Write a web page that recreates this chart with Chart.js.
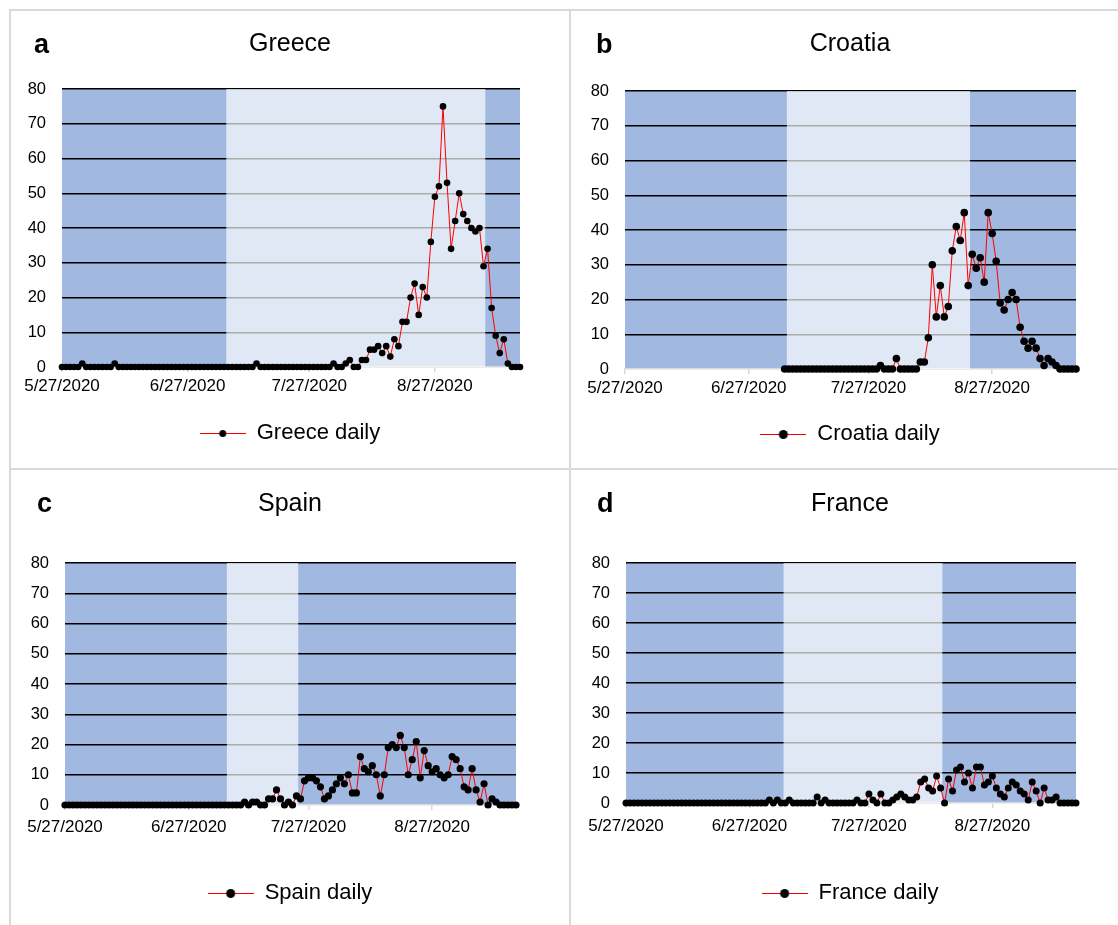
<!DOCTYPE html>
<html>
<head>
<meta charset="utf-8">
<title>Daily cases, summer 2020</title>
<script src="https://cdn.jsdelivr.net/npm/chart.js@4.4.1/dist/chart.umd.min.js"></script>
<style>
    body { margin: 0; background: #fff; width: 1118px; height: 925px; overflow: hidden; position: relative; }
    .rule { position: absolute; background: #d9d9d9; }
    .panel { position: absolute; width: 560px; height: 459px; }
    .panel canvas { position: absolute; left: 0; top: 0; }
    .letter { position: absolute; top: 21px; font: bold 27px 'Liberation Sans', Arial, sans-serif; line-height: 27px; color: #000; }
</style>
</head>
<body>
<div class="rule" style="left:9px; top:9px; width:1130px; height:2px;"></div>
<div class="rule" style="left:9px; top:9px; width:2px; height:930px;"></div>
<div class="rule" style="left:569px; top:9px; width:2px; height:930px;"></div>
<div class="rule" style="left:9px; top:468px; width:1130px; height:2px;"></div>

<div class="panel" style="left:10px; top:10px;"><canvas id="chartA" width="560" height="459"></canvas><div class="letter" style="left:24px;">a</div></div>
<div class="panel" style="left:570px; top:10px;"><canvas id="chartB" width="560" height="459"></canvas><div class="letter" style="left:26px;">b</div></div>
<div class="panel" style="left:10px; top:469px;"><canvas id="chartC" width="560" height="459"></canvas><div class="letter" style="left:27px;">c</div></div>
<div class="panel" style="left:570px; top:469px;"><canvas id="chartD" width="560" height="459"></canvas><div class="letter" style="left:27px;">d</div></div>

<script>
// Daily values, 5/27/2020 - 9/17/2020
const dates = [
    '5/27/2020', '5/28/2020', '5/29/2020', '5/30/2020', '5/31/2020',
    '6/1/2020', '6/2/2020', '6/3/2020', '6/4/2020', '6/5/2020', '6/6/2020', '6/7/2020', '6/8/2020', '6/9/2020', '6/10/2020',
    '6/11/2020', '6/12/2020', '6/13/2020', '6/14/2020', '6/15/2020', '6/16/2020', '6/17/2020', '6/18/2020', '6/19/2020', '6/20/2020',
    '6/21/2020', '6/22/2020', '6/23/2020', '6/24/2020', '6/25/2020', '6/26/2020', '6/27/2020', '6/28/2020', '6/29/2020', '6/30/2020',
    '7/1/2020', '7/2/2020', '7/3/2020', '7/4/2020', '7/5/2020', '7/6/2020', '7/7/2020', '7/8/2020', '7/9/2020', '7/10/2020',
    '7/11/2020', '7/12/2020', '7/13/2020', '7/14/2020', '7/15/2020', '7/16/2020', '7/17/2020', '7/18/2020', '7/19/2020', '7/20/2020',
    '7/21/2020', '7/22/2020', '7/23/2020', '7/24/2020', '7/25/2020', '7/26/2020', '7/27/2020', '7/28/2020', '7/29/2020', '7/30/2020', '7/31/2020',
    '8/1/2020', '8/2/2020', '8/3/2020', '8/4/2020', '8/5/2020', '8/6/2020', '8/7/2020', '8/8/2020', '8/9/2020', '8/10/2020',
    '8/11/2020', '8/12/2020', '8/13/2020', '8/14/2020', '8/15/2020', '8/16/2020', '8/17/2020', '8/18/2020', '8/19/2020', '8/20/2020',
    '8/21/2020', '8/22/2020', '8/23/2020', '8/24/2020', '8/25/2020', '8/26/2020', '8/27/2020', '8/28/2020', '8/29/2020', '8/30/2020', '8/31/2020',
    '9/1/2020', '9/2/2020', '9/3/2020', '9/4/2020', '9/5/2020', '9/6/2020', '9/7/2020', '9/8/2020', '9/9/2020', '9/10/2020',
    '9/11/2020', '9/12/2020', '9/13/2020', '9/14/2020', '9/15/2020', '9/16/2020', '9/17/2020'
];

const tickLabels = ['5/27/2020', '6/27/2020', '7/27/2020', '8/27/2020'];
const yMax = 80;
const yStep = 10;

const greeceDaily = [
    0, 0, 0, 0, 0, 1, 0, 0, 0, 0,
    0, 0, 0, 1, 0, 0, 0, 0, 0, 0,
    0, 0, 0, 0, 0, 0, 0, 0, 0, 0,
    0, 0, 0, 0, 0, 0, 0, 0, 0, 0,
    0, 0, 0, 0, 0, 0, 0, 0, 1, 0,
    0, 0, 0, 0, 0, 0, 0, 0, 0, 0,
    0, 0, 0, 0, 0, 0, 0, 1, 0, 0,
    1, 2, 0, 0, 2, 2, 5, 5, 6, 4,
    6, 3, 8, 6, 13, 13, 20, 24, 15, 23,
    20, 36, 49, 52, 75, 53, 34, 42, 50, 44,
    42, 40, 39, 40, 29, 34, 17, 9, 4, 8,
    1, 0, 0, 0
];

const croatiaDaily = [
    null, null, null, null, null, null, null, null, null, null,
    null, null, null, null, null, null, null, null, null, null,
    null, null, null, null, null, null, null, null, null, null,
    null, null, null, null, null, null, null, null, null, null,
    0, 0, 0, 0, 0, 0, 0, 0, 0, 0,
    0, 0, 0, 0, 0, 0, 0, 0, 0, 0,
    0, 0, 0, 0, 1, 0, 0, 0, 3, 0,
    0, 0, 0, 0, 2, 2, 9, 30, 15, 24,
    15, 18, 34, 41, 37, 45, 24, 33, 29, 32,
    25, 45, 39, 31, 19, 17, 20, 22, 20, 12,
    8, 6, 8, 6, 3, 1, 3, 2, 1, 0,
    0, 0, 0, 0
];

const spainDaily = [
    0, 0, 0, 0, 0, 0, 0, 0, 0, 0,
    0, 0, 0, 0, 0, 0, 0, 0, 0, 0,
    0, 0, 0, 0, 0, 0, 0, 0, 0, 0,
    0, 0, 0, 0, 0, 0, 0, 0, 0, 0,
    0, 0, 0, 0, 0, 1, 0, 1, 1, 0,
    0, 2, 2, 5, 2, 0, 1, 0, 3, 2,
    8, 9, 9, 8, 6, 2, 3, 5, 7, 9,
    7, 10, 4, 4, 16, 12, 11, 13, 10, 3,
    10, 19, 20, 19, 23, 19, 10, 15, 21, 9,
    18, 13, 11, 12, 10, 9, 10, 16, 15, 12,
    6, 5, 12, 5, 1, 7, 0, 2, 1, 0,
    0, 0, 0, 0
];

const franceDaily = [
    0, 0, 0, 0, 0, 0, 0, 0, 0, 0,
    0, 0, 0, 0, 0, 0, 0, 0, 0, 0,
    0, 0, 0, 0, 0, 0, 0, 0, 0, 0,
    0, 0, 0, 0, 0, 0, 1, 0, 1, 0,
    0, 1, 0, 0, 0, 0, 0, 0, 2, 0,
    1, 0, 0, 0, 0, 0, 0, 0, 1, 0,
    0, 3, 1, 0, 3, 0, 0, 1, 2, 3,
    2, 1, 1, 2, 7, 8, 5, 4, 9, 5,
    0, 8, 4, 11, 12, 7, 10, 5, 12, 12,
    6, 7, 9, 5, 3, 2, 5, 7, 6, 4,
    3, 1, 7, 4, 0, 5, 1, 1, 2, 0,
    0, 0, 0, 0
];

// Lighter shaded period (first and last day) for each country
const greeceLight = ['7/7/2020', '9/8/2020'];
const croatiaLight = ['7/7/2020', '8/21/2020'];
const spainLight = ['7/7/2020', '7/24/2020'];
const franceLight = ['7/6/2020', '8/14/2020'];

Chart.defaults.font.family = "'Liberation Sans', Arial, sans-serif";
Chart.defaults.color = '#000';

const CANVAS_H = 459;
const CANVAS_W = 560;

// Panel layout (pixels inside each panel)
const panels = [
    { id: 'chartA', title: 'Greece', legend: 'Greece daily', values: greeceDaily, light: greeceLight, r: 3.3, dot: 3.5,
      plotLeft: 52, plotRight: 510, plotTop: 79, plotBottom: 357, titleY: 34, legendY: 423, xPad: 4 },
    { id: 'chartB', title: 'Croatia', legend: 'Croatia daily', values: croatiaDaily, light: croatiaLight, r: 3.8, dot: 4.5,
      plotLeft: 55, plotRight: 506, plotTop: 81, plotBottom: 359, titleY: 34, legendY: 424, xPad: 4 },
    { id: 'chartC', title: 'Spain', legend: 'Spain daily', values: spainDaily, light: spainLight, r: 3.6, dot: 4.5,
      plotLeft: 55, plotRight: 506, plotTop: 94, plotBottom: 336, titleY: 35, legendY: 424, xPad: 7 },
    { id: 'chartD', title: 'France', legend: 'France daily', values: franceDaily, light: franceLight, r: 3.5, dot: 4.5,
      plotLeft: 56, plotRight: 506, plotTop: 94, plotBottom: 334, titleY: 35, legendY: 424, xPad: 8 }
];

// Points on the day-index axis
function toPoints(values) {
    return values.map((v, i) => ({ x: i, y: v }));
}

// Edges of the lighter period, half a day outside first and last day
function shadePoints(period) {
    const a = dates.indexOf(period[0]);
    const b = dates.indexOf(period[1]);
    return [{ x: a - 0.5, y: yMax }, { x: b + 0.5, y: yMax }];
}

// Red line with a black dot, used as legend symbol
function legendMarker(r) {
    const c = document.createElement('canvas');
    c.width = 46;
    c.height = 12;
    const g = c.getContext('2d');
    g.strokeStyle = '#ff0000';
    g.lineWidth = 1;
    g.beginPath();
    g.moveTo(0, 6.5);
    g.lineTo(46, 6.5);
    g.stroke();
    g.fillStyle = '#000';
    g.beginPath();
    g.arc(23, 6.5, r, 0, Math.PI * 2);
    g.fill();
    return c;
}

// Darker blue fill behind the grid
const plotBackground = {
    id: 'plotBackground',
    beforeDraw(chart) {
        const { ctx, chartArea } = chart;
        ctx.save();
        ctx.fillStyle = '#a1b8e0';
        ctx.fillRect(chartArea.left, chartArea.top, chartArea.right - chartArea.left, chartArea.bottom - chartArea.top);
        ctx.restore();
    }
};

function makeChart(p) {
    const padBottom = CANVAS_H - p.legendY - 21;
    const xAxisH = CANVAS_H - padBottom - 42 - p.plotBottom;
    const marker = legendMarker(p.dot);

    new Chart(document.getElementById(p.id), {
        type: 'line',
        data: {
            datasets: [
                {
                    label: p.legend,
                    data: toPoints(p.values),
                    borderColor: '#ff0000',
                    borderWidth: 1,
                    pointRadius: p.r,
                    pointHoverRadius: p.r,
                    pointBackgroundColor: '#000',
                    pointBorderColor: '#000',
                    pointBorderWidth: 0,
                    tension: 0,
                    fill: false,
                    clip: false,
                    order: 0
                },
                {
                    label: 'light',
                    data: shadePoints(p.light),
                    backgroundColor: 'rgba(255,255,255,0.67)',
                    borderWidth: 0,
                    pointRadius: 0,
                    fill: 'origin',
                    order: 1
                }
            ]
        },
        options: {
            responsive: false,
            animation: false,
            events: [],
            layout: { padding: { top: 0, left: 0, right: 0, bottom: padBottom } },
            plugins: {
                title: {
                    display: true,
                    text: p.title,
                    color: '#000',
                    font: { size: 25, weight: 'normal', lineHeight: 1.2 },
                    padding: { top: p.titleY - 15, bottom: p.plotTop - p.titleY - 15 }
                },
                legend: {
                    display: true,
                    position: 'bottom',
                    labels: {
                        usePointStyle: true,
                        pointStyleWidth: 46,
                        padding: 10,
                        color: '#000',
                        font: { size: 22 },
                        generateLabels: () => [{
                            text: p.legend,
                            pointStyle: marker,
                            datasetIndex: 0,
                            fillStyle: '#000',
                            strokeStyle: '#000',
                            lineWidth: 0,
                            hidden: false,
                            fontColor: '#000'
                        }]
                    }
                },
                tooltip: { enabled: false }
            },
            scales: {
                x: {
                    type: 'linear',
                    min: 0,
                    max: dates.length - 1,
                    afterBuildTicks: (scale) => {
                        scale.ticks = tickLabels.map(l => ({ value: dates.indexOf(l) }));
                    },
                    afterFit: (scale) => { scale.height = xAxisH; },
                    ticks: {
                        autoSkip: false,
                        maxRotation: 0,
                        padding: p.xPad,
                        color: '#000',
                        font: { size: 17 },
                        callback: (v) => dates[v]
                    },
                    grid: {
                        display: true,
                        drawOnChartArea: false,
                        drawTicks: true,
                        tickLength: 5,
                        color: '#d9d9d9',
                        lineWidth: 1.5
                    },
                    border: { display: true, color: '#d9d9d9', width: 1.5 }
                },
                y: {
                    min: 0,
                    max: yMax,
                    afterFit: (scale) => { scale.width = p.plotLeft; },
                    ticks: {
                        stepSize: yStep,
                        padding: 16,
                        color: '#000',
                        font: { size: 16.5 }
                    },
                    grid: {
                        drawTicks: false,
                        color: (ctx) => (ctx.tick && ctx.tick.value === 0 ? 'rgba(0,0,0,0)' : '#000'),
                        lineWidth: 1.4
                    },
                    border: { display: false }
                },
                yRight: {
                    position: 'right',
                    display: true,
                    afterFit: (scale) => { scale.width = CANVAS_W - p.plotRight; },
                    ticks: { display: false },
                    grid: { display: false },
                    border: { display: false }
                }
            }
        },
        plugins: [plotBackground]
    });
}

document.addEventListener('DOMContentLoaded', () => {
    panels.forEach(makeChart);
});
</script>
</body>
</html>
